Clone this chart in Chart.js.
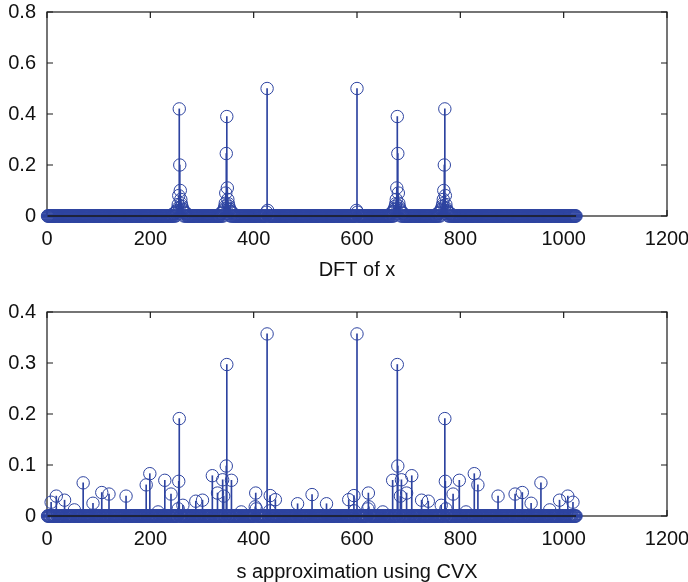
<!DOCTYPE html>
<html>
<head>
<meta charset="utf-8">
<script src="https://cdn.jsdelivr.net/npm/chart.js@4.4.1/dist/chart.umd.min.js"></script>
<style>
  html, body { margin: 0; padding: 0; background: #fff; }
  #wrap { width: 688px; height: 582px; position: relative; }
  .box { position: absolute; left: 0; width: 688px; }
</style>
</head>
<body>
<div id="wrap">
  <div class="box" style="top:0;height:290px"><canvas id="dft"></canvas></div>
  <div class="box" style="top:290px;height:292px"><canvas id="cvx"></canvas></div>
</div>
<script>
// sample count (stem index runs 1..N)
const N = 1024;

// DFT of x : non-zero bins (everything else sits on 0)
const dftIdx = [
  244, 246, 248, 250, 251, 252, 253, 254, 255, 256, 257, 258, 259, 260, 261, 262, 263, 264, 266, 268, 270,
  336, 338, 340, 342, 343, 344, 345, 346, 347, 348, 349, 350, 351, 352, 353, 354, 356, 358, 360,
  425, 426, 427,
  599, 600, 601,
  666, 668, 670, 672, 673, 674, 675, 676, 677, 678, 679, 680, 681, 682, 683, 684, 686, 688, 690,
  756, 758, 760, 762, 763, 764, 765, 766, 767, 768, 769, 770, 771, 772, 773, 774, 775, 776, 778, 780, 782
];
const dftVal = [
  0.008, 0.010, 0.012, 0.015, 0.018, 0.022, 0.030, 0.045, 0.080, 0.420, 0.200, 0.100, 0.065, 0.048, 0.038, 0.030, 0.025, 0.020, 0.015, 0.012, 0.010,
  0.010, 0.012, 0.016, 0.022, 0.028, 0.036, 0.050, 0.090, 0.245, 0.390, 0.110, 0.065, 0.048, 0.038, 0.030, 0.025, 0.018, 0.014, 0.011,
  0.015, 0.500, 0.022,
  0.022, 0.500, 0.015,
  0.011, 0.014, 0.018, 0.025, 0.030, 0.038, 0.048, 0.065, 0.110, 0.390, 0.245, 0.090, 0.050, 0.036, 0.028, 0.022, 0.016, 0.012, 0.010,
  0.010, 0.012, 0.015, 0.020, 0.025, 0.030, 0.038, 0.048, 0.065, 0.100, 0.200, 0.420, 0.080, 0.045, 0.030, 0.022, 0.018, 0.015, 0.012, 0.010, 0.008
];

// s approximation using CVX : non-zero entries
const cvxIdx = [
  8, 18, 34, 53, 70, 89, 106, 120, 153, 192, 199, 215, 228, 240, 254, 255, 256, 263, 288, 301,
  320, 330, 340, 342, 347, 348, 357, 376, 403, 404, 405, 426, 431, 432, 442, 485, 513,
  541, 584, 594, 595, 600, 621, 622, 623, 650, 669, 678, 679, 684, 686, 696, 706, 725, 738,
  763, 770, 771, 772, 786, 798, 811, 827, 834, 873, 906, 920, 937, 956, 973, 992, 1008, 1018
];
const cvxVal = [
  0.027, 0.039, 0.031, 0.012, 0.065, 0.025, 0.046, 0.043, 0.039, 0.061, 0.083, 0.008, 0.070, 0.043, 0.014, 0.068, 0.191, 0.021, 0.029, 0.031,
  0.079, 0.045, 0.071, 0.039, 0.098, 0.297, 0.070, 0.008, 0.018, 0.045, 0.014, 0.357, 0.010, 0.040, 0.032, 0.024, 0.042,
  0.024, 0.032, 0.040, 0.010, 0.357, 0.014, 0.045, 0.018, 0.008, 0.070, 0.297, 0.098, 0.039, 0.071, 0.045, 0.079, 0.031, 0.029,
  0.021, 0.191, 0.068, 0.014, 0.043, 0.070, 0.008, 0.083, 0.061, 0.039, 0.043, 0.046, 0.025, 0.065, 0.012, 0.031, 0.039, 0.027
];

// axis ticks
const xTicks = [0, 200, 400, 600, 800, 1000, 1200];
const dftYTicks = [0, 0.2, 0.4, 0.6, 0.8];
const cvxYTicks = [0, 0.1, 0.2, 0.3, 0.4];

const BLUE = 'rgb(45,67,160)';
const FONT = { family: '"Liberation Sans", Arial, sans-serif', size: 20 };

// full stem series: listed entries, zero elsewhere
function buildSeries(idx, val) {
  const pts = [];
  for (let k = 1; k <= N; k++) pts.push({ x: k, y: 0 });
  idx.forEach((k, i) => { pts[k - 1].y = val[i]; });
  return pts;
}

// box around the axes with inward tick marks on all four sides
const frameTicks = {
  id: 'frameTicks',
  beforeDatasetsDraw(chart) {
    const { ctx, chartArea: a, scales: { x, y } } = chart;
    ctx.save();
    ctx.strokeStyle = '#1a1a1a';
    ctx.lineWidth = 1.2;
    ctx.strokeRect(a.left, a.top, a.right - a.left, a.bottom - a.top);
    ctx.beginPath();
    x.ticks.forEach(t => {
      const px = x.getPixelForValue(t.value);
      ctx.moveTo(px, a.bottom); ctx.lineTo(px, a.bottom - 6);
      ctx.moveTo(px, a.top); ctx.lineTo(px, a.top + 6);
    });
    y.ticks.forEach(t => {
      const py = y.getPixelForValue(t.value);
      ctx.moveTo(a.left, py); ctx.lineTo(a.left + 6, py);
      ctx.moveTo(a.right, py); ctx.lineTo(a.right - 6, py);
    });
    ctx.stroke();
    ctx.restore();
  }
};

function makeStem(canvasId, idx, val, yTicks, yMax, label, opt) {
  const stems = idx.map((k, i) => ({ x: k, y: val[i] }));
  return new Chart(document.getElementById(canvasId), {
    type: 'scatter',
    data: {
      datasets: [
        {
          type: 'line',
          data: [{ x: 1, y: 0 }, { x: N, y: 0 }],
          borderColor: '#1a1a1a',
          borderWidth: 1.5,
          pointRadius: 0,
          clip: false,
          order: 0
        },
        {
          type: 'scatter',
          data: buildSeries(idx, val),
          pointRadius: 6.2,
          pointBorderWidth: 1,
          pointBorderColor: BLUE,
          pointBackgroundColor: 'rgba(0,0,0,0)',
          clip: false,
          order: 1
        },
        {
          type: 'bar',
          data: stems,
          backgroundColor: BLUE,
          borderWidth: 0,
          barThickness: 1,
          order: 2
        }
      ]
    },
    options: {
      responsive: true,
      maintainAspectRatio: false,
      animation: false,
      events: [],
      layout: { padding: { top: opt.top, right: 21, bottom: 0, left: 0 } },
      plugins: { legend: { display: false }, tooltip: { enabled: false } },
      scales: {
        x: {
          type: 'linear',
          min: 0,
          max: 1200,
          offset: false,
          afterBuildTicks: s => { s.ticks = xTicks.map(v => ({ value: v })); },
          afterFit: s => {
            s.height = opt.xh;
            s.paddingLeft = 0; s.paddingRight = 0;
          },
          grid: { display: false, drawTicks: false },
          border: { display: false },
          ticks: { font: FONT, color: '#111', padding: 11, maxRotation: 0, callback: v => String(v) },
          title: {
            display: true,
            text: label,
            font: { family: FONT.family, size: 20, lineHeight: 1 },
            color: '#111',
            padding: { top: 0, bottom: opt.tp }
          }
        },
        y: {
          type: 'linear',
          min: 0,
          max: yMax,
          afterBuildTicks: s => { s.ticks = yTicks.map(v => ({ value: v })); },
          afterFit: s => {
            s.width = 47;
            s.paddingTop = 0; s.paddingBottom = 0;
          },
          grid: { display: false, drawTicks: false },
          border: { display: false },
          ticks: { font: FONT, color: '#111', padding: 11, callback: v => String(v) }
        }
      }
    },
    plugins: [frameTicks]
  });
}

makeStem('dft', dftIdx, dftVal, dftYTicks, 0.8, 'DFT of x', { top: 12, xh: 74, tp: 10 });
makeStem('cvx', cvxIdx, cvxVal, cvxYTicks, 0.4, 's approximation using CVX', { top: 22, xh: 66, tp: 0 });
</script>
</body>
</html>
